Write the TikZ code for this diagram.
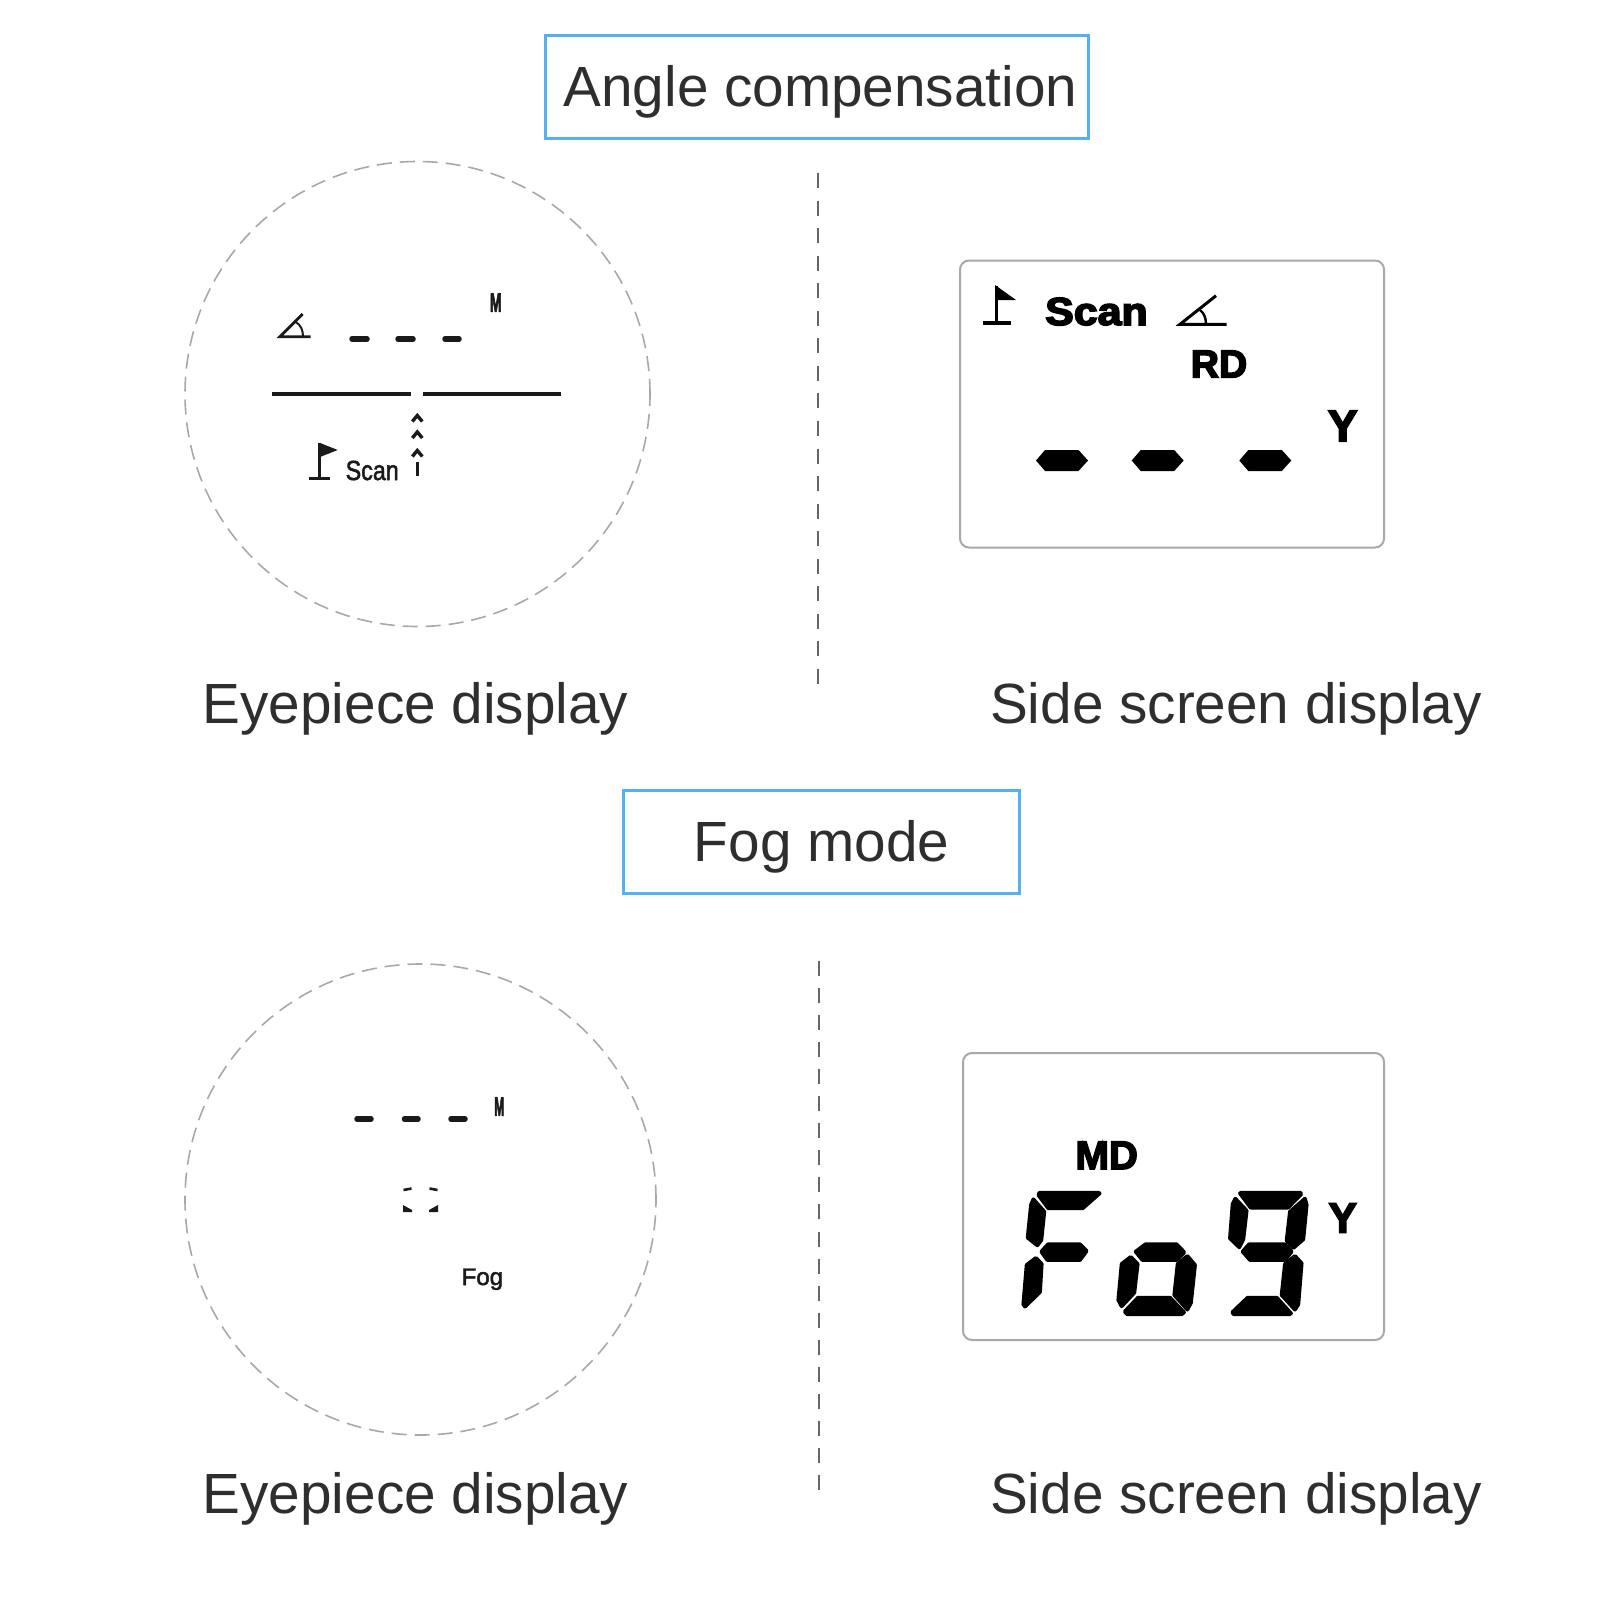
\documentclass[tikz,border=0pt]{standalone}
\usepackage{fontspec}
\setmainfont{Liberation Sans}
\newfontfamily\lcdfont[FakeBold=4]{Liberation Sans Bold}
\newfontfamily\tinyfont[FakeBold=2]{Liberation Sans}
\definecolor{titleBlue}{HTML}{55B2F0}
\definecolor{labelGray}{HTML}{2E2E2E}
\definecolor{lineGray}{HTML}{A8A8A8}
\definecolor{inkGray}{HTML}{1A1A1A}
\begin{document}
\begin{tikzpicture}[
        x=1pt, y=-1pt,
        titleNode/.style={rectangle, draw=titleBlue, line width=3pt, inner sep=0pt, text=labelGray, text height=50.6pt, text depth=12pt, font=\fontsize{56.7}{60}\selectfont},
        captionNode/.style={inner sep=0pt, text=labelGray, font=\fontsize{56.7}{60}\selectfont},
        eyeNode/.style={circle, draw=lineGray, line width=1.6pt, dash pattern=on 15pt off 8pt, inner sep=0pt},
        screenNode/.style={rectangle, draw=lineGray, line width=2pt, rounded corners=9pt, inner sep=0pt},
        lcdText/.style={inner sep=0pt, text=black},
        eyeText/.style={inner sep=0pt, text=inkGray},
        divider/.style={draw=black!60, line width=2pt},
        segment/.style={fill=black, draw=black, line width=3.8pt, line join=round},
        thinbar/.style={line width=4pt, draw=inkGray},
        dashbar/.style={line width=5.5pt, draw=inkGray, line cap=round}
    ]
        \useasboundingbox (0, 0) rectangle (1600, 1600);

        % angle compensation
        \node[titleNode, minimum width=543pt, minimum height=103pt] (angleTitle) at (817, 87) {\hspace*{7pt}Angle compensation};
        \node[eyeNode, minimum size=465pt] (angleEye) at (417.5, 394) {};
        \node[screenNode, minimum width=424pt, minimum height=287pt] (angleScreen) at (1172, 404) {};
        \node[captionNode] (angleEyeCap) at (415.5, 708.5) {Eyepiece display};
        \node[captionNode] (angleSideCap) at (1236, 708.5) {Side screen display};
        \coordinate (angleDivTop) at (818, 173);
        \coordinate (angleDivEnd) at (818, 684);
        \draw[divider, dash pattern=on 15pt off 12.55pt] (angleDivTop) -- (angleDivEnd);

        % eyepiece, upper
        \draw[line width=2.8pt, draw=inkGray] (302.7, 314) -- (280, 336.7) -- (310.7, 336.7);
        \draw[line width=2pt, draw=inkGray] (295, 321.5) .. controls (301, 325) and (303, 330) .. (303, 336.7);
        \draw[dashbar] (352, 339) -- (367, 339);
        \draw[dashbar] (398, 339) -- (413, 339);
        \draw[dashbar] (445, 339) -- (459, 339);
        \node[eyeText] (angleEyeM) at (495.7, 302.7) {\fontsize{20}{20}\lcdfont\scalebox{.7}[1.3]{M}};
        \draw[thinbar] (272.3, 394.3) -- (411, 394.3);
        \draw[thinbar] (423.3, 394.3) -- (560.7, 394.3);
        \foreach \yy in {421.5, 438, 456.5} {
            \draw[line width=3.4pt, draw=inkGray] (412.3, \yy) -- (417.3, \yy-6) -- (422.3, \yy);
        }
        \draw[line width=3.4pt, draw=inkGray] (417.3, 462) -- (417.3, 476);
        \draw[line width=2.6pt, draw=inkGray] (319.3, 443) -- (319.3, 478.5);
        \draw[line width=2.6pt, draw=inkGray] (309, 478.5) -- (330, 478.5);
        \fill[inkGray] (319.3, 442.7) -- (337.7, 450) -- (319.3, 457.3) -- cycle;
        \node[eyeText, anchor=base west] (angleEyeScan) at (345.5, 480) {\fontsize{24}{24}\tinyfont\scalebox{.97}[1.15]{Scan}};

        % side screen, upper
        \draw[line width=3.4pt] (996.7, 286) -- (996.7, 323);
        \draw[line width=3.4pt] (983.3, 323) -- (1011, 323);
        \fill (995, 285) -- (1016, 300) -- (995, 300) -- cycle;
        \node[lcdText, anchor=base west] (angleSideScan) at (1045, 325) {\fontsize{39}{39}\lcdfont\scalebox{1.1}[1]{Scan}};
        \draw[line width=3pt] (1216, 295.7) -- (1180, 324.3) -- (1226.7, 324.3);
        \draw[line width=2.4pt] (1200, 310) .. controls (1204, 313) and (1206, 318) .. (1206, 324.3);
        \node[lcdText] (angleSideRD) at (1219, 364) {\fontsize{39}{39}\lcdfont RD};
        \node[lcdText] (angleSideY) at (1342.7, 426) {\fontsize{44}{44}\lcdfont Y};
        \foreach \xx in {1036, 1131.7, 1239.3} {
            \fill (\xx, 460.5) -- (\xx+9, 450) -- (\xx+42.5, 450) -- (\xx+52, 460.5) -- (\xx+42.5, 471) -- (\xx+9, 471) -- cycle;
        }

        % fog mode
        \node[titleNode, minimum width=396pt, minimum height=103pt] (fogTitle) at (821.5, 842) {Fog mode};
        \node[eyeNode, minimum size=471pt] (fogEye) at (420.5, 1199.5) {};
        \node[screenNode, minimum width=421pt, minimum height=287pt] (fogScreen) at (1173.5, 1196.5) {};
        \node[captionNode] (fogEyeCap) at (415.5, 1498.5) {Eyepiece display};
        \node[captionNode] (fogSideCap) at (1236, 1498.5) {Side screen display};
        \coordinate (fogDivTop) at (819, 961);
        \coordinate (fogDivEnd) at (819, 1490);
        \draw[divider, dash pattern=on 15pt off 12.05pt] (fogDivTop) -- (fogDivEnd);

        % eyepiece, lower
        \draw[dashbar] (357, 1119) -- (371, 1119);
        \draw[dashbar] (404.5, 1119) -- (418, 1119);
        \draw[dashbar] (451, 1119) -- (465, 1119);
        \node[eyeText] (fogEyeM) at (499.3, 1106.7) {\fontsize{20}{20}\lcdfont\scalebox{.6}[1.3]{M}};
        \draw[line width=2.6pt, draw=inkGray] (403.5, 1190) -- (411.5, 1188.5);
        \draw[line width=2.6pt, draw=inkGray] (429.5, 1188.5) -- (437.5, 1190);
        \fill[inkGray] (403, 1205) -- (412, 1210) -- (412, 1212) -- (403, 1212) -- cycle;
        \fill[inkGray] (438, 1205) -- (429, 1210) -- (429, 1212) -- (438, 1212) -- cycle;
        \node[eyeText, anchor=base west] (fogEyeFog) at (461.5, 1285) {\fontsize{24}{24}\tinyfont Fog};

        % side screen, lower
        \node[lcdText] (fogSideMD) at (1106.7, 1155.3) {\fontsize{40}{40}\lcdfont MD};
        \node[lcdText] (fogSideY) at (1342.7, 1218) {\fontsize{42}{42}\lcdfont Y};
        \begin{scope}[shift={(950, 1050)}, x=0.3333pt, y=-0.3333pt]
            % F
            \fill[segment] (268,428) -- (445,428) -- (449,430) -- (398,475) -- (295,475) -- (266,436) -- cycle;
            \fill[segment] (250,448) -- (283,485) -- (274,570) -- (262,586) -- (233,563) -- (243,465) -- cycle;
            \fill[segment] (274,605) -- (294,583) -- (390,583) -- (410,603) -- (390,630) -- (292,630) -- cycle;
            \fill[segment] (258,624) -- (275,642) -- (270,726) -- (225,770) -- (220,763) -- (230,645) -- cycle;
            % o
            \fill[segment] (557,605) -- (586,583) -- (680,583) -- (703,607) -- (680,630) -- (577,630) -- cycle;
            \fill[segment] (542,621) -- (563,642) -- (553,728) -- (515,769) -- (505,750) -- (515,642) -- cycle;
            \fill[segment] (712,618) -- (735,645) -- (723,758) -- (712,779) -- (673,735) -- (683,642) -- cycle;
            \fill[segment] (524,785) -- (564,743) -- (660,743) -- (702,787) -- (695,793) -- (532,793) -- cycle;
            % 9
            \fill[segment] (870,430) -- (876,428) -- (1050,428) -- (1054,432) -- (1014,473) -- (902,473) -- cycle;
            \fill[segment] (856,446) -- (890,482) -- (880,568) -- (868,592) -- (840,565) -- (848,462) -- cycle;
            \fill[segment] (1065,446) -- (1070,465) -- (1060,568) -- (1030,594) -- (1010,572) -- (1020,485) -- cycle;
            \fill[segment] (878,605) -- (897,583) -- (1005,583) -- (1025,605) -- (1005,630) -- (900,630) -- cycle;
            \fill[segment] (1035,618) -- (1055,640) -- (1045,763) -- (1035,779) -- (995,735) -- (1005,642) -- cycle;
            \fill[segment] (847,787) -- (893,743) -- (980,743) -- (1023,790) -- (1018,793) -- (852,793) -- cycle;
        \end{scope}
    \end{tikzpicture}
\end{document}
